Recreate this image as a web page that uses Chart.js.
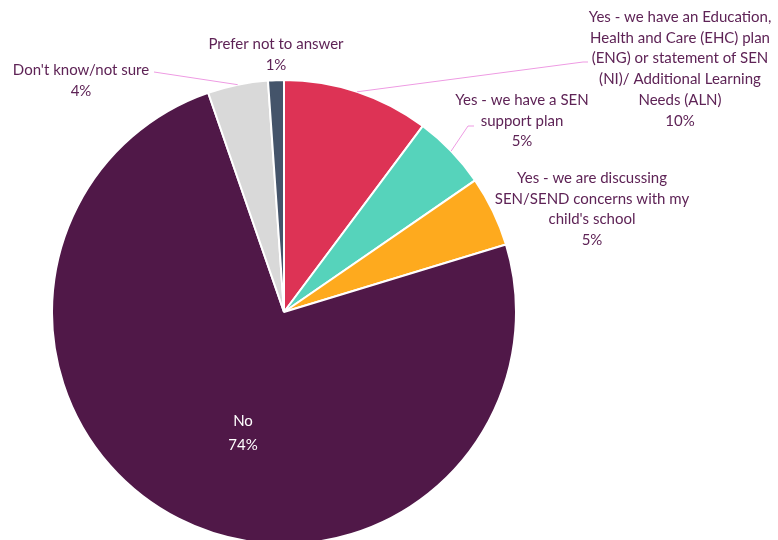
<!DOCTYPE html>
<html>
<head>
<meta charset="utf-8">
<script src="https://cdn.jsdelivr.net/npm/chart.js@4.4.0/dist/chart.umd.min.js"></script>
<style>
  html, body { margin: 0; padding: 0; background: #ffffff; overflow: hidden; }
  #wrap { position: relative; width: 778px; height: 540px; }
</style>
</head>
<body>
<div id="wrap"><canvas id="chart"></canvas></div>
<script>
// Survey answers, clockwise from twelve o'clock
const categories = [
  ["Yes - we have an Education,", "Health and Care (EHC) plan", "(ENG) or statement of SEN", "(NI)/ Additional Learning", "Needs (ALN)"],
  ["Yes - we have a SEN", "support plan"],
  ["Yes - we are discussing", "SEN/SEND concerns with my", "child's school"],
  ["No"],
  ["Don't know/not sure"],
  ["Prefer not to answer"]
];
const shares = [10.2, 5.2, 4.9, 74.4, 4.2, 1.1];
const colours = ["#DD3355", "#56D3BB", "#FEAA1E", "#501848", "#D9D9D9", "#44546A"];

// Label placement: text anchor (centre of first line) and optional leader elbow
const labelLayout = [
  { x: 680, y: 17, leader: [[583, 62], [588, 62]] },
  { x: 522, y: 100, leader: [[468, 126], [474, 126]] },
  { x: 592, y: 178 },
  { x: 243, y: 421, inside: true },
  { x: 81, y: 70, leader: [[154, 72]] },
  { x: 276, y: 44 }
];

const FONT = '15px "Lato", "Open Sans", sans-serif';
const LINE_H = 20.8;
const TEXT_COLOUR = "#5E2356";

const pieLabels = {
  id: "pieLabels",
  afterDatasetsDraw(chart) {
    const ctx = chart.ctx;
    const meta = chart.getDatasetMeta(0);
    const total = shares.reduce((a, b) => a + b, 0);
    ctx.save();
    ctx.font = FONT;
    ctx.textAlign = "center";
    ctx.textBaseline = "middle";
    meta.data.forEach((arc, i) => {
      const p = arc.getProps(["x", "y", "startAngle", "endAngle", "outerRadius"], true);
      const lay = labelLayout[i];
      if (lay.leader) {
        const mid = (p.startAngle + p.endAngle) / 2;
        ctx.beginPath();
        ctx.moveTo(p.x + Math.cos(mid) * p.outerRadius, p.y + Math.sin(mid) * p.outerRadius);
        lay.leader.forEach(pt => ctx.lineTo(pt[0], pt[1]));
        ctx.strokeStyle = "#EE9BE3";
        ctx.lineWidth = 1;
        ctx.stroke();
      }
      const lines = categories[i].concat([Math.round(shares[i] / total * 100) + "%"]);
      ctx.fillStyle = lay.inside ? "#FFFFFF" : TEXT_COLOUR;
      lines.forEach((t, k) => ctx.fillText(t, lay.x, lay.y + k * (lay.inside ? 24 : LINE_H)));
    });
    ctx.restore();
  }
};

new Chart(document.getElementById("chart"), {
  type: "pie",
  data: {
    labels: categories.map(c => c.join(" ")),
    datasets: [{
      data: shares,
      backgroundColor: colours,
      borderColor: "#FFFFFF",
      borderWidth: 2,
      radius: 232
    }]
  },
  options: {
    responsive: true,
    maintainAspectRatio: false,
    animation: false,
    layout: { padding: { left: 0, right: 210, top: 84, bottom: 0 } },
    plugins: {
      legend: { display: false },
      tooltip: { enabled: false }
    }
  },
  plugins: [pieLabels]
});
</script>
</body>
</html>
